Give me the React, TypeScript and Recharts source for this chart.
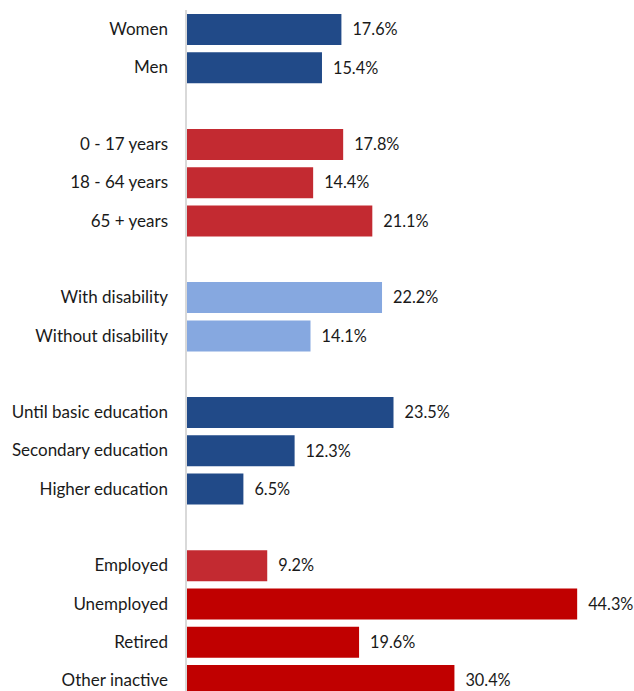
import React from "react";
import { BarChart, Bar, XAxis, YAxis, Cell, LabelList } from "recharts";

const categories = [
  "Women", "Men", "",
  "0 - 17 years", "18 - 64 years", "65 + years", "",
  "With disability", "Without disability", "",
  "Until basic education", "Secondary education", "Higher education", "",
  "Employed", "Unemployed", "Retired", "Other inactive",
];
const values: (number | null)[] = [
  17.6, 15.4, null,
  17.8, 14.4, 21.1, null,
  22.2, 14.1, null,
  23.5, 12.3, 6.5, null,
  9.2, 44.3, 19.6, 30.4,
];
const colors = [
  "#214a88", "#214a88", "none",
  "#c32a31", "#c32a31", "#c32a31", "none",
  "#86a8e0", "#86a8e0", "none",
  "#214a88", "#214a88", "#214a88", "none",
  "#c32a31", "#c00000", "#c00000", "#c00000",
];

const data = categories.map((c, i) => ({ idx: i, label: c, value: values[i] }));
const FONT = "Lato, 'Liberation Sans', sans-serif";

export default function App() {
  return (
    <div style={{ position: "absolute", left: 0, top: 0, width: 634, height: 691, overflow: "hidden", background: "#fff" }}>
      <BarChart
        width={634}
        height={700}
        data={data}
        layout="vertical"
        margin={{ top: 10, right: 6.5, bottom: 0.6, left: 0 }}
        barSize={31}
      >
        <XAxis type="number" domain={[0, 50]} hide />
        <YAxis
          type="category"
          dataKey="idx"
          width={186}
          tickFormatter={(v: number) => categories[v]}
          tickLine={false}
          tickSize={0}
          tickMargin={18}
          axisLine={{ stroke: "#d9d9d9", strokeWidth: 2 }}
          tick={{ fill: "#1a1a1a", fontSize: 17, fontFamily: FONT }}
          interval={0}
        />
        <Bar dataKey="value" isAnimationActive={false}>
          {data.map((d, i) => (
            <Cell key={i} fill={colors[i]} />
          ))}
          <LabelList
            dataKey="value"
            position="right"
            offset={11}
            formatter={(v: any) => (v == null ? "" : `${Number(v).toFixed(1)}%`)}
            style={{ fill: "#1a1a1a", fontSize: 16.3, fontFamily: FONT }}
          />
        </Bar>
      </BarChart>
    </div>
  );
}
